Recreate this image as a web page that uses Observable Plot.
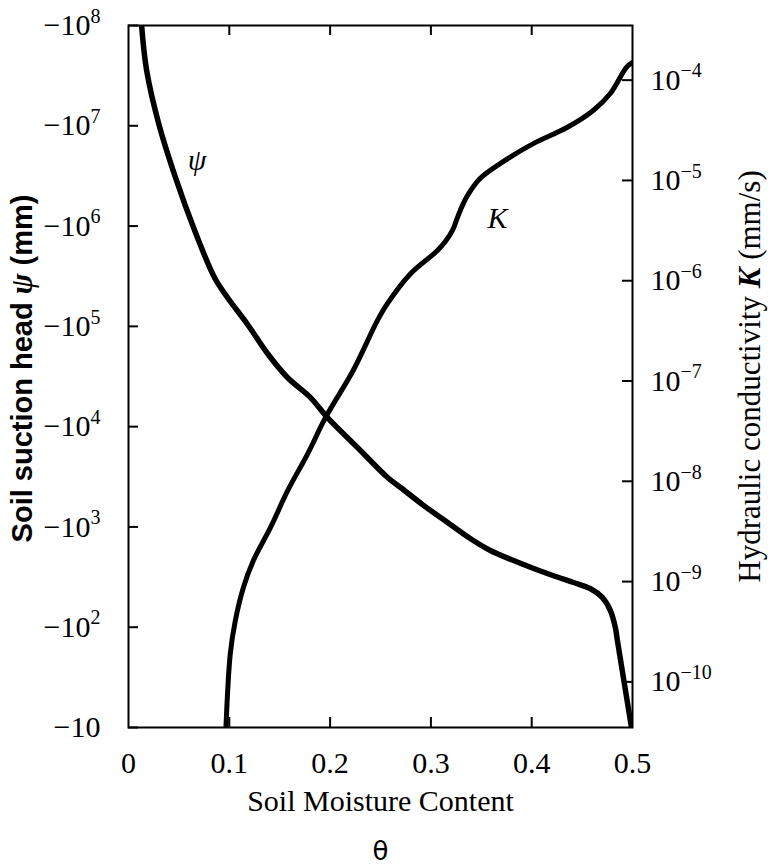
<!DOCTYPE html>
<html><head><meta charset="utf-8">
<script src="https://cdn.jsdelivr.net/npm/d3@7"></script>
<script src="https://cdn.jsdelivr.net/npm/@observablehq/plot@0.6"></script>
<style>body{margin:0;background:#fff}</style>
</head><body><div id="chart"></div>
<script>
// ---- data ----
const thetaPsi = [0.013, 0.018, 0.030, 0.0476, 0.0645, 0.0853, 0.0982, 0.118, 0.1379, 0.1577, 0.1806, 0.1974, 0.2272, 0.257, 0.270, 0.2927, 0.3165, 0.339, 0.359, 0.382, 0.402, 0.421, 0.4415, 0.458, 0.470, 0.478, 0.483, 0.485, 0.499];
const psiValues = [-1.0e8, -3.56e7, -1.05e7, -2.85e6, -9.68e5, -3.07e5, -1.94e5, -1.05e5, -5.36e4, -3.09e4, -1.95e4, -1.23e4, -6.19e3, -3.11e3, -2.47e3, -1.64e3, -1.11e3, -767, -582, -462, -385, -328, -279, -243, -198, -147, -99, -74, -10];
const thetaK = [0.0965, 0.101, 0.106, 0.114, 0.124, 0.1409, 0.158, 0.178, 0.195, 0.223, 0.247, 0.257, 0.280, 0.3065, 0.3145, 0.3214, 0.3264, 0.3313, 0.3363, 0.349, 0.369, 0.402, 0.435, 0.461, 0.478, 0.494, 0.500];
const kValues = [3.2e-11, 1.92e-10, 4.1e-10, 8.75e-10, 1.63e-9, 3.47e-9, 8.1e-9, 1.9e-8, 4.24e-8, 1.28e-7, 4.02e-7, 5.94e-7, 1.18e-6, 2.0e-6, 2.47e-6, 3.17e-6, 4.28e-6, 5.64e-6, 7.08e-6, 1.05e-5, 1.48e-5, 2.34e-5, 3.37e-5, 4.99e-5, 7.36e-5, 1.34e-4, 1.5e-4];

const thetaTicks = [0, 0.1, 0.2, 0.3, 0.4, 0.5];
const psiTicks = [-10, -1e2, -1e3, -1e4, -1e5, -1e6, -1e7, -1e8];
const kTicks = [1e-4, 1e-5, 1e-6, 1e-7, 1e-8, 1e-9, 1e-10];

const xTitle = "Soil Moisture Content";
const xSymbol = "θ";
const leftTitle = "Soil suction head ψ (mm)";
const rightTitle = "Hydraulic conductivity K (mm/s)";
const curveLabels = [
  {theta: 0.068, psi: -4.5e6, label: "ψ"},
  {theta: 0.366, K: 4.2e-6, label: "K"}
];

// right axis (K) is aligned onto the left (ψ) log scale
const K_TO_PSI = Math.pow(10, 11.455);
const kAsPsi = k => -k * K_TO_PSI;

const psiData = thetaPsi.map((t, i) => ({theta: t, psi: psiValues[i]}));
const kData = thetaK.map((t, i) => ({theta: t, K: kValues[i]}));

const supFmt = e => (e < 0 ? "−" + (-e) : String(e));
const fmtPsi = v => {
  const e = Math.round(Math.log10(-v));
  return e === 1 ? "−10" : "−10^" + supFmt(e);
};
const fmtK = v => "10^" + supFmt(Math.round(Math.log10(-v / K_TO_PSI)));

const serif = "'Liberation Serif', 'Times New Roman', serif";
const frameW = 504, frameH = 702;

const chart = Plot.plot({
  width: 775,
  height: 867,
  marginTop: 25,
  marginBottom: 140,
  marginLeft: 128,
  marginRight: 143,
  style: {fontFamily: serif, fontSize: "30px", background: "white", color: "black"},
  x: {domain: [0, 0.5]},
  y: {type: "log", domain: [-10, -1e8]},
  marks: [
    Plot.frame({stroke: "black", strokeWidth: 2}),
    Plot.tickY(psiTicks, {y: d => d, insetRight: frameW - 10, strokeWidth: 2}),
    Plot.tickY(kTicks, {y: kAsPsi, insetLeft: frameW - 10, strokeWidth: 2}),
    Plot.tickX(thetaTicks.slice(1, 5), {x: d => d, insetTop: frameH - 10, strokeWidth: 2}),
    Plot.tickX(thetaTicks.slice(1, 5), {x: d => d, insetBottom: frameH - 10, strokeWidth: 2}),
    Plot.axisY(psiTicks, {anchor: "left", tickSize: 0, tickPadding: 28, tickFormat: fmtPsi, label: null, fontSize: 30, fontFamily: serif}),
    Plot.axisY(kTicks.map(kAsPsi), {anchor: "right", tickSize: 0, tickPadding: 18, tickFormat: fmtK, label: null, fontSize: 30, fontFamily: serif}),
    Plot.axisX(thetaTicks, {anchor: "bottom", tickSize: 0, tickPadding: 24, tickFormat: d => (d === 0 ? "0" : d.toFixed(1)), label: null, fontSize: 30, fontFamily: serif}),
    Plot.line(psiData, {x: "theta", y: "psi", stroke: "black", strokeWidth: 5.5, curve: "catmull-rom", clip: true}),
    Plot.line(kData, {x: "theta", y: d => kAsPsi(d.K), stroke: "black", strokeWidth: 5, curve: "catmull-rom", clip: true}),
    Plot.text([curveLabels[0]], {x: "theta", y: "psi", text: "label", fontStyle: "italic", fontSize: 30, fontFamily: serif}),
    Plot.text([curveLabels[1]], {x: "theta", y: d => kAsPsi(d.K), text: "label", fontStyle: "italic", fontSize: 30, fontFamily: serif}),
    Plot.text([xTitle], {text: d => d, frameAnchor: "bottom", textAnchor: "middle", dy: 83, fontSize: 30, fontFamily: serif}),
    Plot.text([xSymbol], {text: d => d, frameAnchor: "bottom", textAnchor: "middle", dy: 132, fontSize: 26, fontFamily: "'DejaVu Sans', sans-serif"}),
    Plot.text([leftTitle], {text: d => d, frameAnchor: "left", textAnchor: "middle", rotate: -90, dx: -106, dy: -8, fontSize: 29, fontWeight: "bold", fontFamily: "'Liberation Sans', Arial, sans-serif"}),
    Plot.text([rightTitle], {text: d => d, frameAnchor: "right", textAnchor: "middle", rotate: -90, dx: 118, fontSize: 31, fontFamily: serif})
  ]
});

const NS = "http://www.w3.org/2000/svg";
// superscripts for tick labels
chart.querySelectorAll("text").forEach(t => {
  const s = t.textContent;
  const i = s.indexOf("^");
  if (i < 0) return;
  t.textContent = s.slice(0, i);
  const ts = document.createElementNS(NS, "tspan");
  ts.setAttribute("font-size", "20");
  ts.setAttribute("dy", "-0.62em");
  ts.textContent = s.slice(i + 1);
  t.appendChild(ts);
});
// mixed-style axis titles
function styleParts(full, parts) {
  chart.querySelectorAll("text").forEach(t => {
    if (t.textContent !== full) return;
    t.textContent = "";
    for (const [str, attrs] of parts) {
      const ts = document.createElementNS(NS, "tspan");
      for (const k in attrs) ts.setAttribute(k, attrs[k]);
      ts.textContent = str;
      t.appendChild(ts);
    }
  });
}
styleParts(leftTitle, [
  ["Soil suction head ", {}],
  ["ψ", {"font-family": serif, "font-style": "italic", "font-size": "31"}],
  [" (mm)", {}]
]);
styleParts(rightTitle, [
  ["Hydraulic conductivity ", {}],
  ["K", {"font-style": "italic", "font-weight": "bold"}],
  [" (mm/s)", {}]
]);

document.getElementById("chart").appendChild(chart);
</script>
</body></html>
